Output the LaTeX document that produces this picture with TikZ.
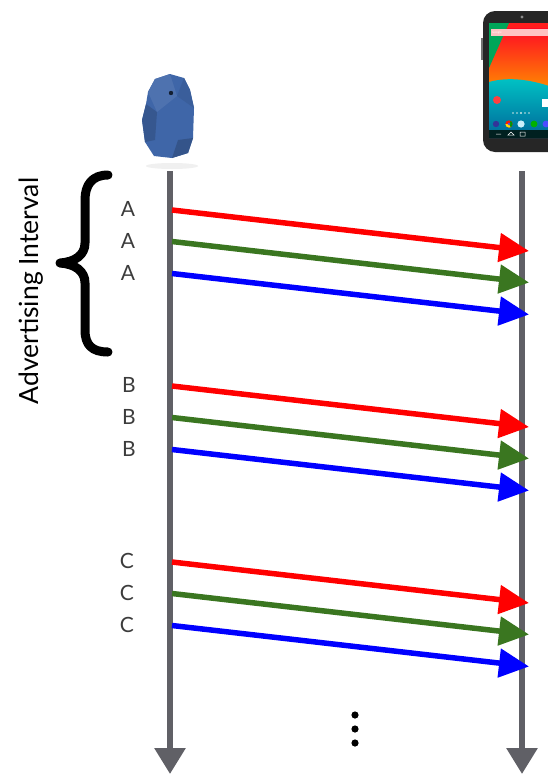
\documentclass[tikz,border=0pt]{standalone}
\usepackage{fontspec}
\setmainfont{Lato}
\usetikzlibrary{arrows.meta}
\definecolor{timeline}{HTML}{606066}
\definecolor{msgred}{HTML}{FF0000}
\definecolor{msggreen}{HTML}{3A7620}
\definecolor{msgblue}{HTML}{0000FF}
\definecolor{labelgray}{HTML}{3C3C3C}
\definecolor{beaconblue}{HTML}{3F66A8}
\tikzset{
  lifeline/.style={draw=timeline, line width=6pt,
    -{Triangle[length=26pt,width=30pt]}},
  msg/.style={line width=5.5pt, -{Triangle[length=30pt,width=28pt]}},
  pktlabel/.style={text=labelgray, font=\fontsize{21}{21}\selectfont, inner sep=0pt},
  brace/.style={line width=9pt, line cap=round, line join=round},
}
\begin{document}
\begin{tikzpicture}[x=1pt, y=-1pt]
\clip (0,0) rectangle (548,774);
\fill[white] (0,0) rectangle (548,774);

% ---- beacon ----
\fill[gray!12] (172,166) ellipse (26pt and 3pt);
\fill[beaconblue] (155,79) -- (170,74) -- (184,78) -- (190,90) -- (194,108)
  -- (193,138) -- (188,153) -- (172,158) -- (154,156) -- (145,142)
  -- (142,120) -- (146,104) -- (148,92) -- cycle;
\fill[beaconblue!85!black] (146,104) -- (157,112) -- (155,140) -- (145,142) -- (142,120) -- cycle;
\fill[beaconblue!92!white] (155,79) -- (170,74) -- (177,96) -- (157,112) -- (148,92) -- cycle;
\fill[beaconblue!92!black] (184,78) -- (190,90) -- (194,108) -- (177,96) -- cycle;
\fill[beaconblue!82!black] (193,138) -- (188,153) -- (172,158) -- (178,140) -- cycle;
\fill[black!70!beaconblue] (171,93) circle (2.2pt);

% ---- phone ----
\fill[black!85] (483,11) [rounded corners=12pt] -- (483,152) -- (575,152) -- (575,11) -- cycle;
\fill[black!55] (481,38) rectangle (483,60);
\fill[black!45] (522,17) circle (1.6pt);
\shade[top color=red!85!magenta, middle color=orange!85!red, bottom color=orange!90!yellow]
  (489,23) rectangle (560,90);
\fill[red!85!pink] (489,23) rectangle (560,28);
\fill[teal!70!green] (489,23) -- (509,23) -- (489,68) -- cycle;
\fill[pink!80!red!60!white] (491,29) rectangle (560,36);
\node[font=\fontsize{3}{3}\selectfont, text=white, anchor=west, inner sep=0pt] (gtxt) at (492,32.5) {Google};
\shade[top color=cyan!55!teal, bottom color=teal!80!blue]
  (489,82) .. controls (510,76) and (535,80) .. (560,90) -- (560,138) -- (489,138) -- cycle;
\fill[red!75!white] (497,100) circle (4pt);
\fill[white] (542,99) rectangle (550,107);
\fill[white!80!teal] (513,113) circle (0.9pt) (517,113) circle (0.9pt)
  (521,113) circle (1.1pt) (525,113) circle (0.9pt) (529,113) circle (0.9pt);
\fill[blue!50!black!80] (496,124) circle (3.2pt);
\fill[red!80!orange] (509,124) circle (3.6pt);
\fill[yellow!80!orange] (509,124) -- ++(-3.6,0) arc (180:300:3.6pt) -- cycle;
\fill[green!60!black] (509,124) -- ++(60:3.6pt) arc (60:-60:3.6pt) -- cycle;
\fill[blue!70!white] (509,124) circle (1.4pt);
\fill[white!80!cyan] (521,124) circle (3.6pt);
\fill[green!70!black] (534,124) circle (3.4pt);
\fill[blue!70!white] (546,124) circle (3.4pt);
\fill[black!75!teal] (489,130) rectangle (560,138);
\draw[white!80, line width=0.5pt] (496,134) -- (501,134) (508,135) -- (511,132) -- (514,135) -- cycle
  (520,132) rectangle (525,136);

% ---- lifelines ----
\coordinate (bcnTop) at (170,171);
\coordinate (bcnEnd) at (170,774);
\coordinate (phTop) at (522,171);
\coordinate (phEnd) at (522,774);
\draw[lifeline] (bcnTop) -- (bcnEnd);
\draw[lifeline] (phTop) -- (phEnd);

% ---- advertising packets ----
\foreach \name/\ys/\lx in {A/210/128, B/386/129, C/562/127}{
  \coordinate (\name r0) at (172,\ys);
  \coordinate (\name g0) at (172,\ys+31.5);
  \coordinate (\name b0) at (172,\ys+63.5);
  \coordinate (\name r1) at (529,\ys+41);
  \coordinate (\name g1) at (529,\ys+72.5);
  \coordinate (\name b1) at (529,\ys+104.5);
  \draw[msg, msgred]   (\name r0) -- (\name r1);
  \draw[msg, msggreen] (\name g0) -- (\name g1);
  \draw[msg, msgblue]  (\name b0) -- (\name b1);
  \node[pktlabel] (\name lbl1) at (\lx,\ys-1) {\name};
  \node[pktlabel] (\name lbl2) at (\lx,\ys+30.5) {\name};
  \node[pktlabel] (\name lbl3) at (\lx,\ys+62.5) {\name};
}

% ---- advertising interval brace ----
\draw[brace] (108,175) .. controls (92,175) and (85,185) .. (85,200) -- (85,243)
  .. controls (85,255) and (75,262) .. (60,263)
  .. controls (75,264) and (85,271) .. (85,283) -- (85,330)
  .. controls (85,345) and (92,352) .. (108,352);
\node[rotate=90, font=\fontsize{26.5}{26.5}\selectfont, inner sep=0pt] (advlbl) at (31,291) {Advertising Interval};

% ---- continuation dots ----
\foreach \yy [count=\i] in {715,729,743}
  \fill (355,\yy) circle (3.6pt) coordinate (dot\i);
\end{tikzpicture}
\end{document}
